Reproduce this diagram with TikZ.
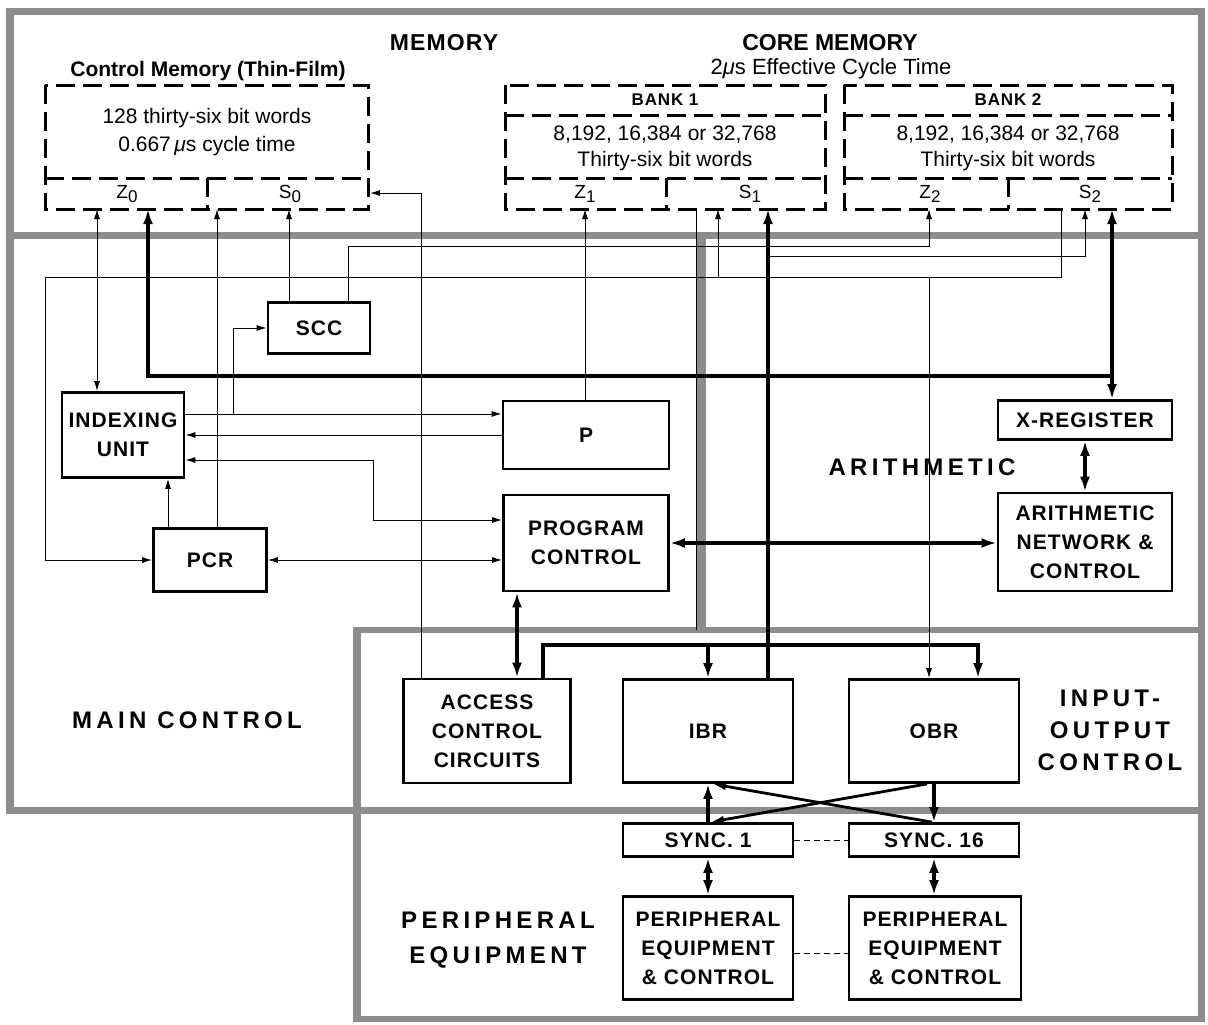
\documentclass[tikz,border=0pt]{standalone}
\usepackage{fontspec}
\setmainfont{Liberation Sans}
\newfontfamily\boxfont[LetterSpace=5]{Liberation Sans}
\newfontfamily\zonefont[LetterSpace=18]{Liberation Sans}
\usetikzlibrary{arrows.meta,positioning}
\definecolor{Stipple}{RGB}{140,140,140}
\newcommand{\portsub}[1]{\raisebox{-2pt}{\fontsize{8.5}{9}\selectfont #1}}

\tikzset{
  blk/.style={draw,line width=1.4pt,inner sep=0pt,align=center,
    font=\boxfont\bfseries\fontsize{10.5}{14.5}\selectfont},
  mem/.style={line width=1.5pt,dash pattern=on 9.5pt off 4pt},
  band/.style={fill=Stipple,draw=none},
  wire/.style={line width=0.5pt,>={Latex[length=5pt,width=3pt]}},
  bus/.style={line width=2.2pt,>={Latex[length=7.5pt,width=5pt]}},
  diag/.style={line width=1.4pt,>={Latex[length=7pt,width=4pt]}},
  link/.style={line width=0.5pt,dash pattern=on 3pt off 2pt},
  zone/.style={font=\zonefont\bfseries\fontsize{12}{16}\selectfont,align=center},
  memtxt/.style={font=\fontsize{10.5}{14}\selectfont,align=center},
  port/.style={font=\fontsize{9.5}{10}\selectfont},
}

\begin{document}
\begin{tikzpicture}[x=0.5pt,y=-0.5pt]
\useasboundingbox (0,0) rectangle (1208,1024);

% stippled region borders
\fill[band] (6,8) rectangle (1205,15);
\fill[band] (6,8) rectangle (14,814);
\fill[band] (1198,8) rectangle (1205,1022);
\fill[band] (6,232) rectangle (1205,239);
\fill[band] (6,807) rectangle (1205,814);
\fill[band] (697,239) rectangle (706,630);
\fill[band] (353,627) rectangle (1205,633);
\fill[band] (353,627) rectangle (361,1022);
\fill[band] (353,1016) rectangle (1205,1022);

% memory
\node[font=\boxfont\bfseries\fontsize{11.5}{13}\selectfont] (memlbl) at (444,43) {MEMORY};
\node[font=\bfseries\fontsize{11.5}{13}\selectfont] (corelbl) at (830,43) {CORE MEMORY};
\node[font=\fontsize{11}{13}\selectfont] (cyclbl) at (831,69) {2{\itshape μ}s Effective Cycle Time};
\node[font=\bfseries\fontsize{10.5}{12}\selectfont] (cmlbl) at (208,71) {Control Memory (Thin-Film)};

\draw[mem] (45,85) rectangle (368,209);
\draw[mem] (45,178) -- (368,178) (207,178) -- (207,209);
\node[memtxt] (cmtxt) at (207,132) {128 thirty-six bit words\\0.667\,{\itshape μ}s cycle time};
\node[port] (z0lbl) at (127,194) {Z\portsub{0}};
\node[port] (s0lbl) at (290,194) {S\portsub{0}};

\draw[mem] (505,85) rectangle (825,209);
\draw[mem] (505,115) -- (825,115) (505,178) -- (825,178) (666,178) -- (666,209);
\node[font=\boxfont\bfseries\fontsize{8.5}{10}\selectfont] (bk1lbl) at (665,100) {BANK 1};
\node[memtxt,font=\fontsize{10.5}{13}\selectfont] (bk1txt) at (665,148) {8,192, 16,384 or 32,768\\Thirty-six bit words};
\node[port] (z1lbl) at (585,194) {Z\portsub{1}};
\node[port] (s1lbl) at (750,194) {S\portsub{1}};

\draw[mem] (844,85) rectangle (1172,209);
\draw[mem] (844,115) -- (1172,115) (844,178) -- (1172,178) (1008,178) -- (1008,209);
\node[font=\boxfont\bfseries\fontsize{8.5}{10}\selectfont] (bk2lbl) at (1008,100) {BANK 2};
\node[memtxt,font=\fontsize{10.5}{13}\selectfont] (bk2txt) at (1008,148) {8,192, 16,384 or 32,768\\Thirty-six bit words};
\node[port] (z2lbl) at (930,194) {Z\portsub{2}};
\node[port] (s2lbl) at (1090,194) {S\portsub{2}};

% memory ports
\coordinate (z0a) at (97,209);
\coordinate (z0b) at (148,209);
\coordinate (cmpc) at (217,209);
\coordinate (s0) at (289,209);
\coordinate (cmin) at (370,193);
\coordinate (z1) at (585,209);
\coordinate (b1out) at (696,209);
\coordinate (s1a) at (718,209);
\coordinate (s1b) at (768,209);
\coordinate (z2) at (929,209);
\coordinate (b2out) at (1061,209);
\coordinate (s2a) at (1085,209);
\coordinate (s2b) at (1112,209);

% blocks
\node[blk,minimum width=51pt,minimum height=25.5pt] (scc) at (319,328) {SCC};
\node[blk,minimum width=61pt,minimum height=42.5pt] (idx) at (123,435) {INDEXING\\UNIT};
\node[blk,minimum width=56.5pt,minimum height=31.5pt] (pcr) at (210,560) {PCR};
\node[blk,minimum width=83pt,minimum height=34pt] (preg) at (586,435) {P};
\node[blk,minimum width=82.5pt,minimum height=48pt] (pgc) at (586,543) {PROGRAM\\CONTROL};
\node[blk,minimum width=87pt,minimum height=19.5pt] (xreg) at (1085,420) {X-REGISTER};
\node[blk,minimum width=87pt,minimum height=49pt] (anc) at (1085,542) {ARITHMETIC\\NETWORK \&\\CONTROL};
\node[blk,minimum width=83.5pt,minimum height=52pt] (acc) at (487,731) {ACCESS\\CONTROL\\CIRCUITS};
\node[blk,minimum width=85pt,minimum height=51.5pt] (ibr) at (708,731) {IBR};
\node[blk,minimum width=85pt,minimum height=51.5pt] (obr) at (934,731) {OBR};
\node[blk,minimum width=85pt,minimum height=16.5pt] (sync1) at (708,840) {SYNC. 1};
\node[blk,minimum width=85pt,minimum height=16.5pt] (sync16) at (934,840) {SYNC. 16};
\node[blk,minimum width=85pt,minimum height=51.5pt] (pec1) at (708,948) {PERIPHERAL\\EQUIPMENT\\\& CONTROL};
\node[blk,minimum width=86pt,minimum height=51.5pt] (pec2) at (935,948) {PERIPHERAL\\EQUIPMENT\\\& CONTROL};

% region labels
\node[zone] (mainlbl) at (187,720) {MAIN CONTROL};
\node[zone] (arlbl) at (922,467) {ARITHMETIC};
\node[zone] (iolbl) at (1110,730) {INPUT-\\OUTPUT\\CONTROL};
\node[zone,font=\zonefont\bfseries\fontsize{12}{17.5}\selectfont] (perlbl) at (498,940) {PERIPHERAL\\EQUIPMENT};

% main bus
\coordinate (bjoin) at (1112,376);
\draw[bus,<-] (z0b) |- (bjoin);
\draw[bus,<->] (s2b) -- (s2b |- xreg.north);

% control memory links
\draw[wire,<->] (z0a) -- (z0a |- idx.north);
\draw[wire,->] (cmpc |- pcr.north) -- (cmpc);
\draw[wire,->] (s0 |- scc.north) -- (s0);
\draw[wire,->] ([xshift=-11.5pt]scc.north east) -- ++(0,-55) -| (z2);
\draw[wire,->] ([xshift=-33pt]acc.north) |- (cmin);

% core memory links
\coordinate (rail) at (45,277);
\coordinate (s1tap) at (768,256);
\draw[wire,->] (b2out) |- (rail) |- (pcr.west);
\draw[wire,->] (s1a |- rail) -- (s1a);
\draw[wire,->] (z2 |- rail) -- (z2 |- obr.north);
\draw[wire,->] (z1 |- preg.north) -- (z1);
\draw[wire] (b1out) -- (b1out |- 0,630);
\draw[bus,->] (s1b |- ibr.north) -- (s1b);
\draw[wire,->] (s1tap) -| (s2a);

% main control
\draw[wire,->] ([yshift=10.5pt]idx.east) -- ([yshift=10.5pt]idx.east -| preg.west);
\draw[wire,->] (233,414) |- (scc.west);
\draw[wire,->] (preg.west) -- (preg.west -| idx.east);
\draw[wire,<->] ([yshift=-12.5pt]idx.east) -| (373,520) -- ([yshift=11.5pt]pgc.west);
\draw[wire,<->] (pcr.east) -- (pcr.east -| pgc.west);
\draw[wire,->] ([xshift=-21pt]pcr.north) -- ([xshift=-21pt]pcr.north |- idx.south);
\draw[bus,<->] ([xshift=15pt]acc.north) -- ([xshift=15pt]acc.north |- pgc.south);

% arithmetic
\draw[bus,<->] (pgc.east) -- (pgc.east -| anc.west);
\draw[bus,<->] (xreg.south) -- (anc.north);

% input-output
\coordinate (iotap) at (708,645);
\draw[bus,->] ([xshift=28pt]acc.north) |- (iotap) -| ([xshift=22pt]obr.north);
\draw[bus,->] (iotap) -- (ibr.north);
\draw[bus,->] (sync1.north) -- (ibr.south);
\draw[bus,->] (obr.south) -- (sync16.north);
\draw[diag,->] ([xshift=-3.5pt]obr.south) -- ([xshift=1pt]sync1.north);
\draw[diag,->] ([xshift=-1pt]sync16.north) -- ([xshift=2pt]ibr.south);

% peripheral equipment
\draw[bus,<->] (sync1.south) -- (pec1.north);
\draw[bus,<->] (sync16.south) -- (sync16.south |- pec2.north);
\draw[link] (sync1.east) -- (sync16.west);
\draw[link] ([yshift=-2.5pt]pec1.east) -- ([yshift=-2.5pt]pec1.east -| pec2.west);
\end{tikzpicture}
\end{document}
